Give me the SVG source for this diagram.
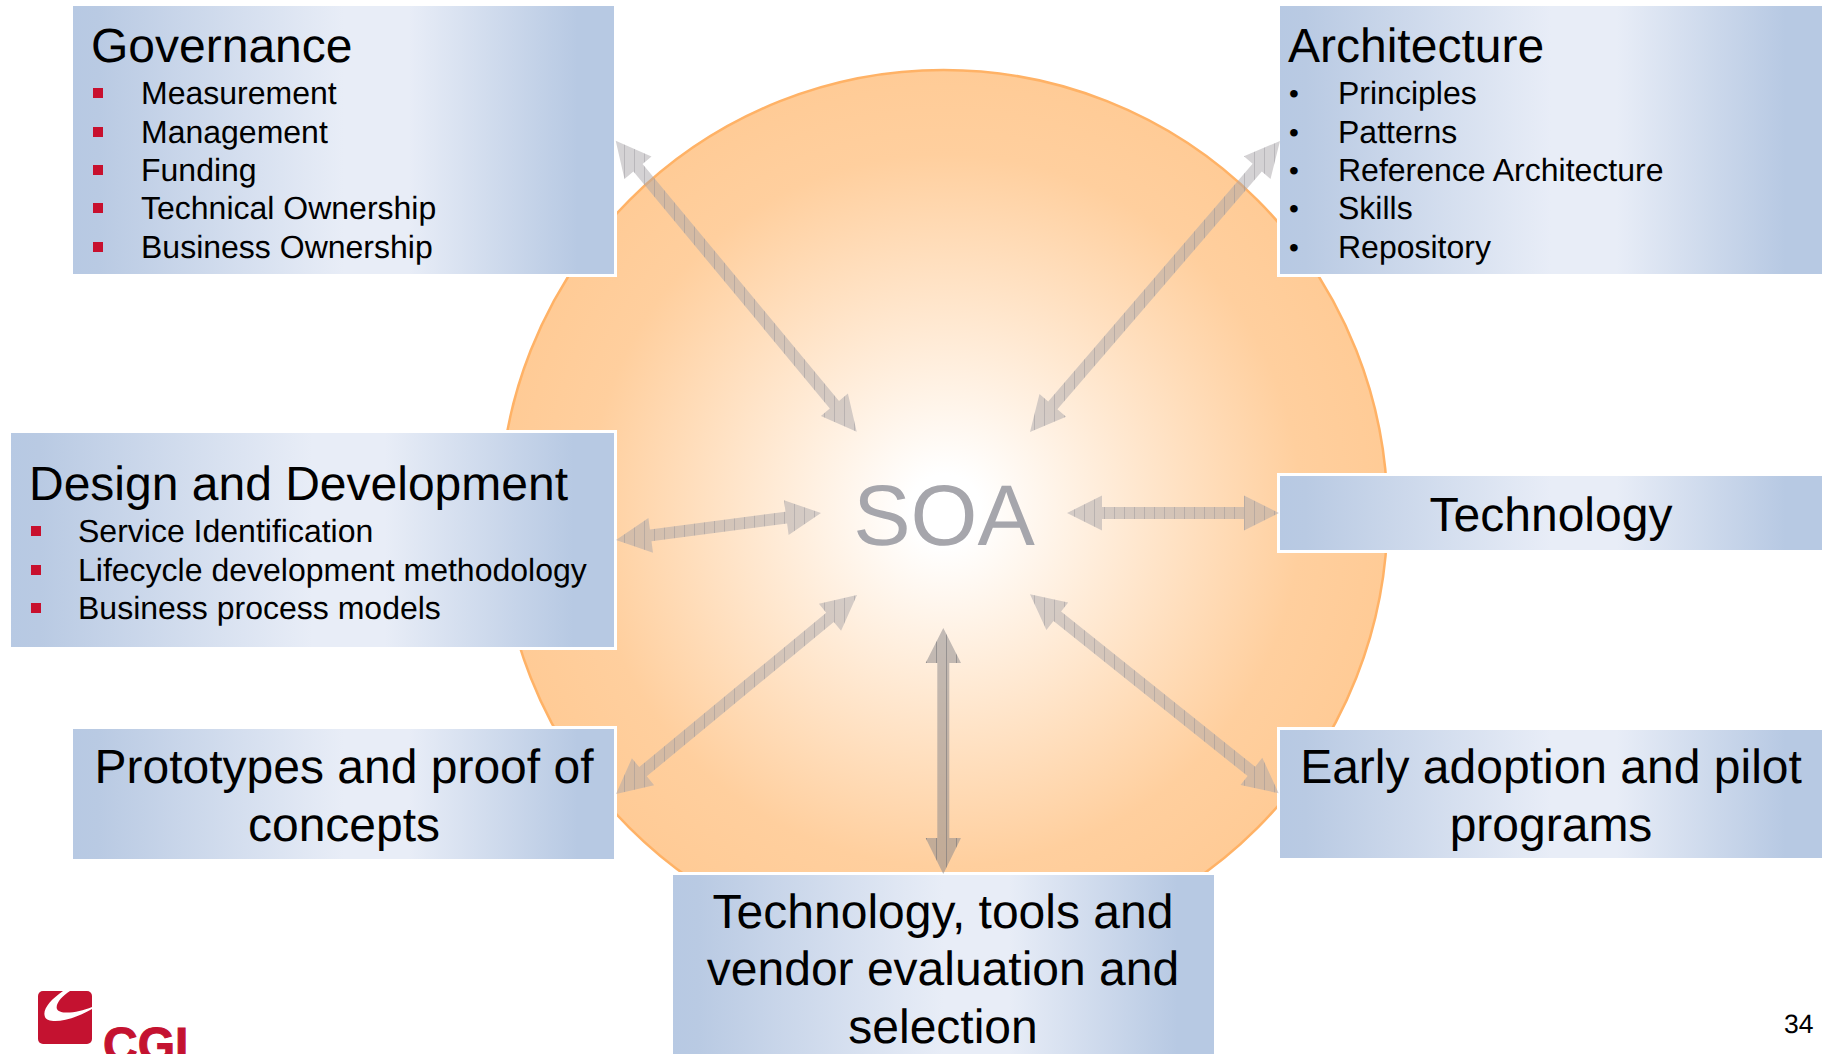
<svg xmlns="http://www.w3.org/2000/svg" width="1822" height="1054" viewBox="0 0 1822 1054">
<style>
text{font-family:"Liberation Sans",Arial,sans-serif;fill:#000;text-rendering:geometricPrecision}
.t{font-size:48px}
.i{font-size:32px}
.p{font-size:28px}
.c{text-anchor:middle}
.box{stroke:#fff;stroke-width:3;fill:url(#bg)}
.b{fill:#c8102e}
.arrow{fill:url(#hatch)}
.arrowv{fill:url(#hatchv)}
</style>
<defs>
<radialGradient id="sun" gradientUnits="userSpaceOnUse" cx="945" cy="510" r="445">
<stop offset="0" stop-color="#fff"/><stop offset=".08" stop-color="#fff"/><stop offset=".8" stop-color="#ffcf9e"/><stop offset="1" stop-color="#ffcb96"/>
</radialGradient>
<linearGradient id="bg" x1="0" x2="1" y1="0" y2="0">
<stop offset="0" stop-color="#b7c9e3"/><stop offset=".05" stop-color="#b9cae3"/><stop offset=".5" stop-color="#e8edf7"/><stop offset=".62" stop-color="#e8edf7"/><stop offset=".93" stop-color="#b7c9e3"/><stop offset="1" stop-color="#b7c9e3"/>
</linearGradient>
<pattern id="hatch" patternUnits="userSpaceOnUse" width="10" height="10">
<rect width="10" height="10" fill="#a9a6aa" fill-opacity=".5"/><rect x="4" width="1" height="10" fill="#8c8c92" fill-opacity=".38"/>
</pattern>
<pattern id="hatchv" patternUnits="userSpaceOnUse" width="10" height="10">
<rect width="10" height="10" fill="#908c8e" fill-opacity=".55"/><rect x="6" width="1" height="10" fill="#707076" fill-opacity=".55"/>
</pattern>
</defs>
<rect width="1822" height="1054" fill="#fff"/>
<g id="soa-circle"><circle cx="943.5" cy="514" r="444" fill="url(#sun)" stroke="#ffb266" stroke-width="2.5"/>
<text class="c" x="944" y="545" style="font-size:86px;fill:#a6a6ac">SOA</text></g>

<g id="governance"><rect class="box" x="71.5" y="4.5" width="544" height="271"/>
<text class="t" x="91" y="62">Governance</text>
<rect class="b" x="93" y="88" width="10" height="10"/><text class="i" x="141" y="104">Measurement</text>
<rect class="b" x="93" y="127" width="10" height="10"/><text class="i" x="141" y="143">Management</text>
<rect class="b" x="93" y="165" width="10" height="10"/><text class="i" x="141" y="181">Funding</text>
<rect class="b" x="93" y="203" width="10" height="10"/><text class="i" x="141" y="219">Technical Ownership</text>
<rect class="b" x="93" y="242" width="10" height="10"/><text class="i" x="141" y="258">Business Ownership</text></g>

<g id="architecture"><rect class="box" x="1278.5" y="4.5" width="545" height="271"/>
<text class="t" x="1288" y="62">Architecture</text>
<text class="p" x="1289" y="103">•</text><text class="i" x="1338" y="104">Principles</text>
<text class="p" x="1289" y="142">•</text><text class="i" x="1338" y="143">Patterns</text>
<text class="p" x="1289" y="180">•</text><text class="i" x="1338" y="181">Reference Architecture</text>
<text class="p" x="1289" y="218">•</text><text class="i" x="1338" y="219">Skills</text>
<text class="p" x="1289" y="257">•</text><text class="i" x="1338" y="258">Repository</text></g>

<g id="design"><rect class="box" x="9.5" y="431.5" width="606" height="217"/>
<text class="t" x="29" y="500">Design and Development</text>
<rect class="b" x="31" y="526" width="10" height="10"/><text class="i" x="78" y="542">Service Identification</text>
<rect class="b" x="31" y="565" width="10" height="10"/><text class="i" x="78" y="581">Lifecycle development methodology</text>
<rect class="b" x="31" y="603" width="10" height="10"/><text class="i" x="78" y="619">Business process models</text></g>

<g id="technology"><rect class="box" x="1278.5" y="474.5" width="545" height="77"/>
<text class="t c" x="1551" y="531">Technology</text></g>

<g id="prototypes"><rect class="box" x="71.5" y="727.5" width="544" height="133"/>
<text class="t c" x="344" y="783">Prototypes and proof of</text>
<text class="t c" x="344" y="841">concepts</text></g>

<g id="early"><rect class="box" x="1278.5" y="728.5" width="545" height="131"/>
<text class="t c" x="1551" y="783">Early adoption and pilot</text>
<text class="t c" x="1551" y="841">programs</text></g>

<g id="tools"><rect class="box" x="671.5" y="873.5" width="544" height="184"/>
<text class="t c" x="943" y="928">Technology, tools and</text>
<text class="t c" x="943" y="985">vendor evaluation and</text>
<text class="t c" x="943" y="1043">selection</text></g>

<g id="connectors">
<polygon class="arrow" points="615.7,140.7 651.5,156.5 642.6,163.9 839,400.9 847.9,393.5 856.7,431.7 820.9,415.9 829.8,408.5 633.4,171.5 624.5,178.9"/>
<polygon class="arrow" points="1280,141 1270.5,179 1261.8,171.5 1057.4,409.3 1066.1,416.8 1030,432 1039.5,394 1048.2,401.5 1252.6,163.7 1243.9,156.2"/>
<polygon class="arrow" points="616,540 653,552.7 651.5,541.3 787.1,523.5 788.6,534.9 821,513 784,500.3 785.5,511.7 649.9,529.5 648.4,518.1"/>
<polygon class="arrow" points="1067,513 1102,530.5 1102,519 1244,519 1244,530.5 1279,513 1244,495.5 1244,507 1102,507 1102,495.5"/>
<polygon class="arrow" points="616,794 654.1,785.2 646.8,776.3 833.8,621.9 841.1,630.8 857,595 818.9,603.8 826.2,612.7 639.2,767.1 631.9,758.2"/>
<polygon class="arrow" points="1030,594.3 1068.2,602.5 1061.1,611.5 1255.2,766.7 1262.3,757.7 1278.7,793.3 1240.5,785.1 1247.6,776.1 1053.5,620.9 1046.4,629.9"/>
<polygon class="arrowv" points="943.3,628 961,663 949.3,663 949.3,838 961,838 943.3,874 925.6,838 937.3,838 937.3,663 925.6,663"/>
</g>

<g id="logo">
<rect x="38" y="991" width="54" height="53" rx="5" fill="#c41230"/>
<path d="M63,991 C50,1000 42,1010 45,1017 C48,1024 70,1022 92,1009 L92,1007 C78,1013 60,1015 57,1009 C55,1004 62,996 70,991 Z" fill="#fff"/>
<text x="103" y="1061" style="font-size:48px;font-weight:bold;fill:#c41230;stroke:#c41230;stroke-width:1">CGI</text>
</g>
<text x="1784" y="1033" style="font-size:26.5px">34</text>
</svg>
